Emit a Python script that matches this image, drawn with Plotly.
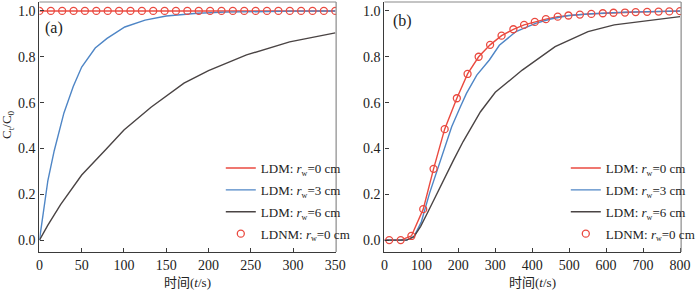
import plotly.graph_objects as go

# ---------------- data ----------------
# panel (a)
a_red_t = [0, 350]
a_red_v = [1.0, 1.0]
a_blue_t = [0, 5, 10, 17.5, 21, 29, 40, 50, 66, 80, 101, 125, 150, 187, 220, 260, 300, 350]
a_blue_v = [0, 0.14, 0.26, 0.39, 0.44, 0.555, 0.67, 0.755, 0.838, 0.88, 0.93, 0.96, 0.978, 0.99, 0.995, 0.998, 0.999, 1.0]
a_black_t = [0, 10, 25, 50, 78, 100, 132, 171, 200, 245, 296, 350]
a_black_v = [0, 0.065, 0.155, 0.284, 0.393, 0.48, 0.58, 0.685, 0.74, 0.808, 0.865, 0.904]
a_circ_t = [0, 13.5, 26.9, 40.4, 53.8, 67.3, 80.8, 94.2, 107.7, 121.2, 134.6, 148.1, 161.5, 175,
            188.5, 201.9, 215.4, 228.8, 242.3, 255.8, 269.2, 282.7, 296.2, 309.6, 323.1, 336.5, 350]
a_circ_v = [1.0, 1.0, 1.0, 1.0, 1.0, 1.0, 1.0, 1.0, 1.0, 1.0, 1.0, 1.0, 1.0, 1.0,
            1.0, 1.0, 1.0, 1.0, 1.0, 1.0, 1.0, 1.0, 1.0, 1.0, 1.0, 1.0, 1.0]

# panel (b)
b_circ_t = [13, 44, 73, 105, 133, 163, 196, 225, 255, 286, 317, 349, 378, 407, 437, 469, 498,
            529, 560, 591, 620, 651, 680, 711, 742, 771, 800]
b_circ_v = [0.0, 0.0, 0.018, 0.135, 0.311, 0.484, 0.619, 0.725, 0.80, 0.852, 0.892, 0.92, 0.939,
            0.952, 0.964, 0.975, 0.98, 0.984, 0.987, 0.99, 0.992, 0.993, 0.995, 0.996, 0.997, 0.998, 0.999]
b_red_t = [0, 13, 44, 73, 105, 133, 163, 196, 225, 255, 286, 317, 349, 378, 407, 437, 469, 498,
           529, 560, 591, 620, 651, 680, 711, 742, 771, 800]
b_red_v = [0.0, 0.0, 0.0, 0.018, 0.135, 0.311, 0.484, 0.619, 0.725, 0.80, 0.852, 0.892, 0.92, 0.939,
           0.952, 0.964, 0.975, 0.98, 0.984, 0.987, 0.99, 0.992, 0.993, 0.995, 0.996, 0.997, 0.998, 0.999]
b_blue_t = [0, 60, 80, 100, 122, 151, 182, 205, 222, 250, 284, 311, 356, 409, 450, 498, 560, 650, 800]
b_blue_v = [0, 0.0, 0.015, 0.08, 0.204, 0.349, 0.495, 0.58, 0.64, 0.72, 0.786, 0.85, 0.91, 0.946,
            0.965, 0.98, 0.988, 0.995, 1.0]
b_black_t = [0, 60, 80, 98, 120, 142, 187, 213, 236, 260, 300, 373, 462, 551, 622, 711, 800]
b_black_v = [0, 0.0, 0.015, 0.06, 0.13, 0.204, 0.349, 0.43, 0.495, 0.56, 0.645, 0.742, 0.844,
             0.91, 0.939, 0.958, 0.975]

SUBW = "<i>r</i><sub><span style='font-size:8px'>w</span></sub>"
names = ["LDM: " + SUBW + "=0 cm", "LDM: " + SUBW + "=3 cm",
         "LDM: " + SUBW + "=6 cm", "LDNM: " + SUBW + "=0 cm"]
x_ticks_a = [0, 50, 100, 150, 200, 250, 300, 350]
x_ticks_b = [0, 100, 200, 300, 400, 500, 600, 700, 800]
y_ticks = [0.0, 0.2, 0.4, 0.6, 0.8, 1.0]

RED = "#ea4a40"
BLUE = "#4f86c6"
DARK = "#4a4444"
FONT = "Liberation Serif"
CJK = "Noto Sans CJK SC"

fig = go.Figure()

def add_panel(xa, ya, leg, red_t, red_v, blue_t, blue_v, black_t, black_v, ct, cv):
    fig.add_trace(go.Scatter(x=red_t, y=red_v, mode="lines", line=dict(color=RED, width=1.4),
                             name=names[0], xaxis=xa, yaxis=ya, legend=leg, legendgroup=leg+"1"))
    fig.add_trace(go.Scatter(x=blue_t, y=blue_v, mode="lines", line=dict(color=BLUE, width=1.4),
                             name=names[1], xaxis=xa, yaxis=ya, legend=leg, legendgroup=leg+"2"))
    fig.add_trace(go.Scatter(x=black_t, y=black_v, mode="lines", line=dict(color=DARK, width=1.4),
                             name=names[2], xaxis=xa, yaxis=ya, legend=leg, legendgroup=leg+"3"))
    fig.add_trace(go.Scatter(x=ct, y=cv, mode="markers",
                             marker=dict(symbol="circle-open", size=7, color=RED, line=dict(width=1.3, color=RED)),
                             name=names[3], xaxis=xa, yaxis=ya, legend=leg, legendgroup=leg+"4"))

add_panel("x", "y", "legend", a_red_t, a_red_v, a_blue_t, a_blue_v, a_black_t, a_black_v, a_circ_t, a_circ_v)
add_panel("x2", "y2", "legend2", b_red_t, b_red_v, b_blue_t, b_blue_v, b_black_t, b_black_v, b_circ_t, b_circ_v)

W, H = 700, 290
axis_common = dict(showline=True, linecolor="#3a3a3a", linewidth=1.2, ticks="inside", ticklen=4,
                   tickwidth=1, tickcolor="#3a3a3a", showgrid=False, zeroline=False, automargin=False,
                   tickfont=dict(family=FONT, size=14, color="#222"))

fig.update_layout(
    width=W, height=H, margin=dict(l=0, r=0, t=0, b=0, pad=0),
    paper_bgcolor="white", plot_bgcolor="white",
    font=dict(family=FONT, size=13, color="#222"),
    xaxis=dict(domain=[40/W, 341/W], range=[0, 351], tickvals=x_ticks_a, anchor="y", **axis_common),
    yaxis=dict(domain=[(H-252)/H, (H-2)/H], range=[-0.052, 1.039], tickvals=y_ticks, tickformat=".1f",
               anchor="x", **axis_common),
    xaxis2=dict(domain=[390/W, 691/W], range=[0, 803], tickvals=x_ticks_b, anchor="y2", **axis_common),
    yaxis2=dict(domain=[(H-252)/H, (H-2)/H], range=[-0.052, 1.039], tickvals=y_ticks, tickformat=".1f",
                anchor="x2", **axis_common),
    legend=dict(x=224/W, y=1-153/H, xanchor="left", yanchor="top", bgcolor="rgba(0,0,0,0)",
                font=dict(family=FONT, size=13, color="#222"), tracegroupgap=2, itemwidth=30),
    legend2=dict(x=574/W, y=1-153/H, xanchor="left", yanchor="top", bgcolor="rgba(0,0,0,0)",
                 font=dict(family=FONT, size=13, color="#222"), tracegroupgap=2, itemwidth=30),
    showlegend=True,
)

# top/right frame lines (lighter)
for xr, yr in [("x domain", "y domain"), ("x2 domain", "y2 domain")]:
    fig.add_shape(type="line", xref=xr, yref=yr, x0=0, x1=1, y0=1, y1=1, line=dict(color="#8a8a8a", width=1.2))
    fig.add_shape(type="line", xref=xr, yref=yr, x0=1, x1=1, y0=0, y1=1, line=dict(color="#8a8a8a", width=1.2))

def ann(text, px, py, size=13, angle=0, family=FONT):
    fig.add_annotation(text=text, x=px/W, y=1-py/H, xref="paper", yref="paper", showarrow=False,
                       xanchor="center", yanchor="middle", textangle=angle,
                       font=dict(family=family, size=size, color="#222"))

ann("(a)", 55, 28, size=16)
ann("(b)", 408, 21, size=16)
ann("时间(<i>t</i>/s)", 190, 282, size=13, family=FONT + ", " + CJK)
ann("时间(<i>t</i>/s)", 540, 282, size=13, family=FONT + ", " + CJK)
ann("C<sub>t</sub>/C<sub>0</sub>", 8, 124, size=13, angle=-90)

fig.write_html("out.html", config={"displayModeBar": False},
               post_script="document.body.style.margin='0px';")
